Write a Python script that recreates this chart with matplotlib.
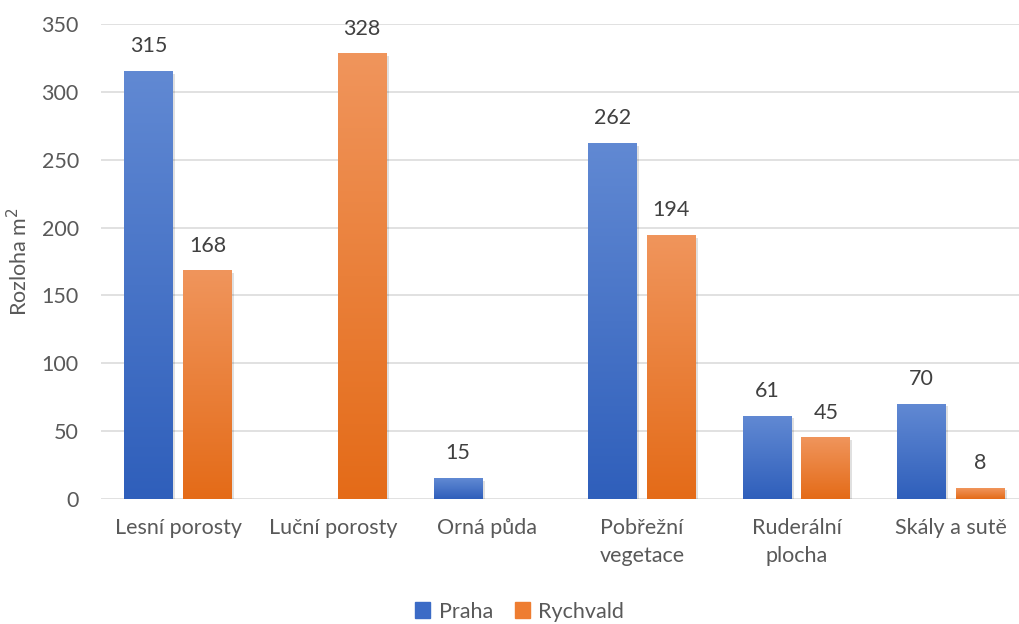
import numpy as np
import matplotlib
matplotlib.use('Agg')
import matplotlib.pyplot as plt
from matplotlib.colors import LinearSegmentedColormap
from matplotlib.patches import Rectangle
import matplotlib.patheffects as pe

kategorie = ['Lesní porosty', 'Luční porosty', 'Orná půda',
             'Pobřežní\nvegetace', 'Ruderální\nplocha', 'Skály a sutě']
praha = [315, np.nan, 15, 262, 61, 70]
rychvald = [168, 328, np.nan, 194, 45, 8]

plt.rcParams['font.family'] = ['Lato', 'DejaVu Sans']
text_barva = '#595959'
fs = 15.5

# spodni a horni barva prechodu
modra = ('#2f5fbb', '#6189d3')
oranzova = ('#e46b18', '#f0955c')

fig = plt.figure(figsize=(10.19, 6.24), dpi=100)
ax = fig.add_axes([101 / 1019, 1 - 499 / 624, 1 - 101 / 1019, (499 - 24) / 624])

x = np.arange(len(kategorie))
sirka = 0.317
posun = 0.19

def gradient_bars(hodnoty, pozice, barvy):
    cmap = LinearSegmentedColormap.from_list('g', list(barvy))
    bars = ax.bar(pozice, np.nan_to_num(hodnoty), sirka, color=barvy[0], zorder=2,
                  linewidth=0)
    grad = np.linspace(0, 1, 256).reshape(-1, 1)
    for r, h in zip(bars, hodnoty):
        if np.isnan(h):
            r.set_visible(False)
            continue
        r.set_path_effects([pe.SimplePatchShadow(offset=(1.5, -1.5), shadow_rgbFace='#000000',
                                                 alpha=0.12), pe.Normal()])
        ax.imshow(grad, cmap=cmap, origin='lower', aspect='auto', zorder=3,
                  extent=[r.get_x(), r.get_x() + r.get_width(), 0, r.get_height()])
        ax.annotate(f'{int(h)}', (r.get_x() + r.get_width() / 2, h),
                    xytext=(0, 11), textcoords='offset points', ha='center', va='bottom',
                    fontsize=fs, color='#404040', zorder=4)
    return bars

gradient_bars(praha, x - posun, modra)
gradient_bars(rychvald, x + posun, oranzova)

ax.set_xlim(-0.5, 5.44)
ax.set_ylim(0, 350)
ax.set_yticks(range(0, 351, 50))
ax.grid(axis='y', color='#d9d9d9', linewidth=1.1, zorder=0)
ax.set_axisbelow(True)
for s in ax.spines.values():
    s.set_visible(False)
ax.tick_params(axis='y', length=0, pad=16, labelsize=fs, labelcolor=text_barva)
ax.set_xticks(x)
ax.set_xticklabels(kategorie, fontsize=fs, color=text_barva, linespacing=1.45)
ax.tick_params(axis='x', length=0, pad=14)
ax.set_ylabel('Rozloha m$^2$', fontsize=fs, color=text_barva, labelpad=7)

handles = [Rectangle((0, 0), 1, 1, color='#3b6bc6'), Rectangle((0, 0), 1, 1, color='#ee7d31')]
fig.legend(handles, ['Praha', 'Rychvald'], loc='center', bbox_to_anchor=(0.51, 0.02),
           ncol=2, frameon=False, fontsize=fs, handlelength=0.7, handleheight=0.7,
           handletextpad=0.4, columnspacing=1.0, labelcolor=text_barva)

fig.savefig('out.png', dpi=100)
